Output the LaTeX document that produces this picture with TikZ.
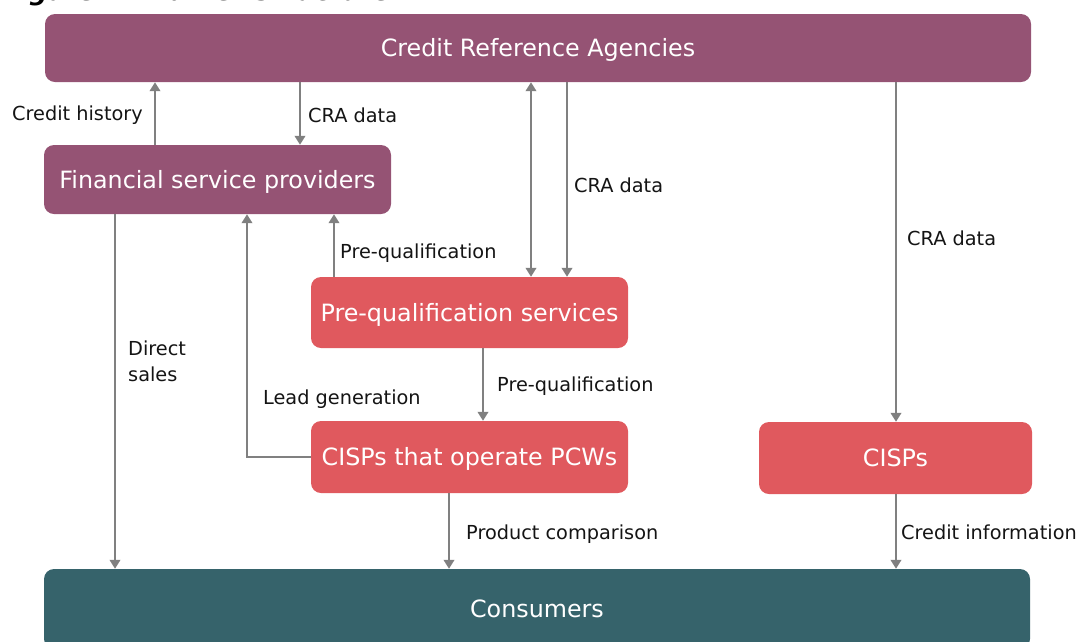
\documentclass[tikz,border=0pt]{standalone}
\usepackage{fontspec}
\setmainfont{DejaVu Sans}
\usetikzlibrary{arrows.meta}
\definecolor{plum}{RGB}{149,83,116}
\definecolor{coral}{RGB}{224,89,94}
\definecolor{deepteal}{RGB}{54,99,107}
\definecolor{linegray}{RGB}{128,128,128}
\definecolor{ink}{RGB}{20,20,20}
\begin{document}
\begin{tikzpicture}[x=1pt,y=-1pt,
  box/.style={rounded corners=10pt, text=white, inner sep=0pt,
    font=\fontsize{23.8}{28}\selectfont, text height=17.3pt, text depth=0pt},
  lbl/.style={inner sep=0pt, text=ink, font=\fontsize{19.3}{26}\selectfont},
  arr/.style={draw=linegray, line width=2.8pt,
    -{Triangle[length=9pt,width=10.5pt]}},
  biarr/.style={draw=linegray, line width=2.8pt,
    {Triangle[length=9pt,width=10.5pt]}-{Triangle[length=9pt,width=10.5pt]}}
]
\useasboundingbox (0,0) rectangle (1082,641);

% heading, mostly above the page edge
\node[inner sep=0pt, anchor=base west,
  font=\fontsize{25.5}{30}\selectfont\bfseries\itshape] (title) at (3,0.3)
  {Figure 1: Market Structure};

% boxes
\node[box, fill=plum, minimum width=986pt, minimum height=68pt] (cra) at (538,48) {Credit Reference Agencies};
\node[box, fill=plum, minimum width=347pt, minimum height=69pt] (fsp) at (217.5,179.5) {Financial service providers};
\node[box, fill=coral, minimum width=317pt, minimum height=71pt] (pqs) at (469.5,312.5) {Pre-qualification services};
\node[box, fill=coral, minimum width=317pt, minimum height=72pt] (pcw) at (469.5,457) {CISPs that operate PCWs};
\node[box, fill=coral, minimum width=273pt, minimum height=72pt] (cisp) at (895.5,458) {CISPs};
\node[box, fill=deepteal, minimum width=986pt, minimum height=80pt] (con) at (537,609) {Consumers};

% x positions of the vertical connectors
\coordinate (xa) at (115,0);
\coordinate (xb) at (155,0);
\coordinate (xc) at (247,0);
\coordinate (xd) at (300,0);
\coordinate (xe) at (334,0);
\coordinate (xf) at (449,0);
\coordinate (xg) at (483,0);
\coordinate (xh) at (531,0);
\coordinate (xi) at (567,0);
\coordinate (xj) at (896,0);

% connectors
\draw[arr] (fsp.north -| xb) -- (cra.south -| xb);
\draw[arr] (cra.south -| xd) -- (fsp.north -| xd);
\draw[biarr] (cra.south -| xh) -- (pqs.north -| xh);
\draw[arr] (cra.south -| xi) -- (pqs.north -| xi);
\draw[arr] (cra.south -| xj) -- (cisp.north -| xj);
\draw[arr] (pqs.north -| xe) -- (fsp.south -| xe);
\draw[arr] (pcw.west) -| (fsp.south -| xc);
\draw[arr] (fsp.south -| xa) -- (con.north -| xa);
\draw[arr] (pqs.south -| xg) -- (pcw.north -| xg);
\draw[arr] (pcw.south -| xf) -- (con.north -| xf);
\draw[arr] (cisp.south -| xj) -- (con.north -| xj);

% connector labels
\node[lbl, anchor=base east] (l1) at (143,120) {Credit history};
\node[lbl, anchor=base west] (l2) at (308,122) {CRA data};
\node[lbl, anchor=base west] (l3) at (574,192) {CRA data};
\node[lbl, anchor=base west] (l4) at (907,245) {CRA data};
\node[lbl, anchor=base west] (l5) at (340,258) {Pre-qualification};
\node[lbl, anchor=base west] (l6) at (497,391) {Pre-qualification};
\node[lbl, anchor=base west] (l7) at (263,404) {Lead generation};
\node[lbl, anchor=base west, align=left] (l8) at (128,381) {Direct\\sales};
\node[lbl, anchor=base west] (l9) at (466,539) {Product comparison};
\node[lbl, anchor=base west] (l10) at (901,539) {Credit information};
\end{tikzpicture}
\end{document}
